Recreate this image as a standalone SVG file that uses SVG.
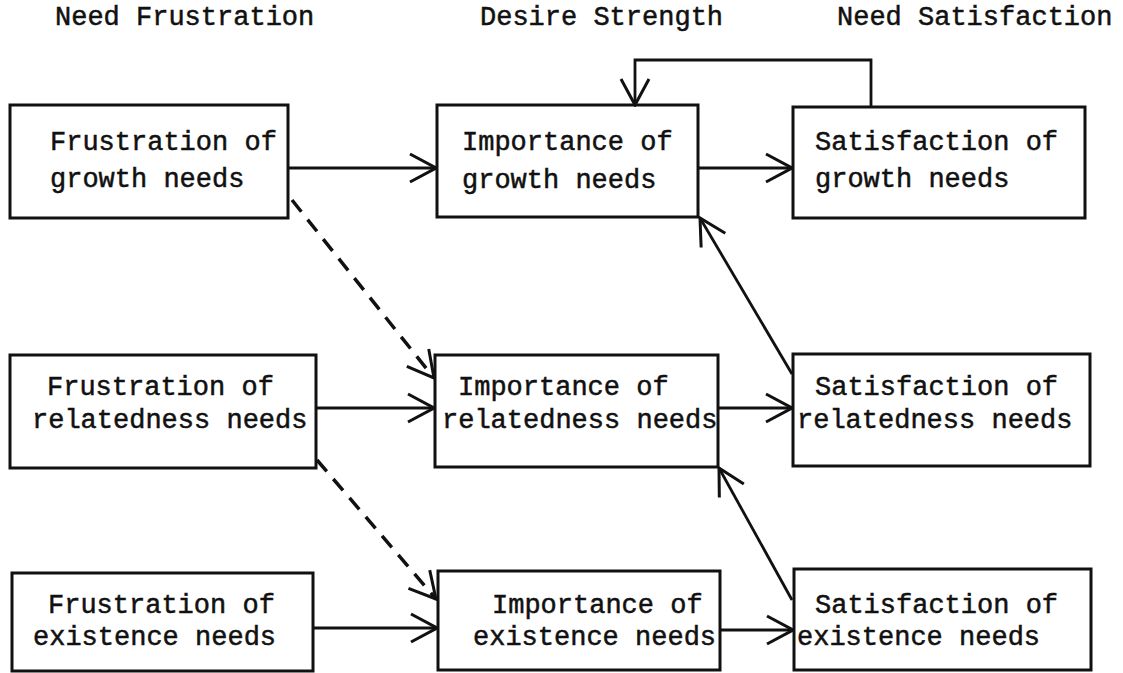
<svg xmlns="http://www.w3.org/2000/svg" width="1123" height="673" viewBox="0 0 1123 673">
<style>
text{font-family:"Liberation Mono","DejaVu Sans Mono",monospace;font-size:27px;fill:#111;stroke:#111;stroke-width:0.5}
.box{fill:none;stroke:#111;stroke-width:3}
.c{fill:none;stroke:#111;stroke-width:2.8}
.d{fill:none;stroke:#111;stroke-width:3.5;stroke-dasharray:15 10}
</style>
<defs>
<marker id="a" viewBox="0 0 30 32" markerWidth="30" markerHeight="32" refX="28" refY="16" orient="auto" markerUnits="userSpaceOnUse">
<path d="M2,2 L28,16 L2,30" fill="none" stroke="#111" stroke-width="3"/>
</marker>
</defs>
<g id="headers">
<text x="55" y="25">Need Frustration</text>
<text x="480" y="25">Desire Strength</text>
<text x="837" y="25">Need Satisfaction</text>
</g>
<g id="connectors">
<line class="c" x1="288" y1="168" x2="436" y2="168" marker-end="url(#a)"/>
<line class="c" x1="698" y1="168" x2="792" y2="168" marker-end="url(#a)"/>
<polyline class="c" points="871,107 871,60 635,60 635,105" marker-end="url(#a)"/>
<line class="d" x1="292" y1="200" x2="434" y2="378" marker-end="url(#a)"/>
<line class="c" x1="316" y1="408" x2="434" y2="408" marker-end="url(#a)"/>
<line class="c" x1="718" y1="408" x2="792" y2="408" marker-end="url(#a)"/>
<line class="d" x1="317" y1="460" x2="436" y2="599" marker-end="url(#a)"/>
<line class="c" x1="313" y1="628" x2="437" y2="628" marker-end="url(#a)"/>
<line class="c" x1="720" y1="630" x2="793" y2="630" marker-end="url(#a)"/>
<line class="c" x1="792" y1="374" x2="700" y2="218" marker-end="url(#a)"/>
<line class="c" x1="792" y1="600" x2="719" y2="468" marker-end="url(#a)"/>
</g>
<g id="n1"><rect class="box" x="10" y="105" width="278" height="113"/><text x="50" y="150">Frustration of</text><text x="50" y="187">growth needs</text></g>
<g id="n2"><rect class="box" x="437" y="105" width="261" height="112"/><text x="462" y="150">Importance of</text><text x="462" y="188">growth needs</text></g>
<g id="n3"><rect class="box" x="793" y="107" width="292" height="111"/><text x="815" y="150">Satisfaction of</text><text x="815" y="187">growth needs</text></g>
<g id="n4"><rect class="box" x="10" y="355" width="306" height="113"/><text x="47" y="395">Frustration of</text><text x="32" y="428">relatedness needs</text></g>
<g id="n5"><rect class="box" x="435" y="355" width="283" height="112"/><text x="458" y="395">Importance of</text><text x="442" y="428">relatedness needs</text></g>
<g id="n6"><rect class="box" x="793" y="354" width="297" height="112"/><text x="815" y="395">Satisfaction of</text><text x="797" y="428">relatedness needs</text></g>
<g id="n7"><rect class="box" x="12" y="573" width="301" height="98"/><text x="48" y="613">Frustration of</text><text x="33" y="645">existence needs</text></g>
<g id="n8"><rect class="box" x="438" y="571" width="282" height="99"/><text x="492" y="613">Importance of</text><text x="473" y="645">existence needs</text></g>
<g id="n9"><rect class="box" x="794" y="569" width="297" height="101"/><text x="815" y="613">Satisfaction of</text><text x="797" y="645">existence needs</text></g>
</svg>
